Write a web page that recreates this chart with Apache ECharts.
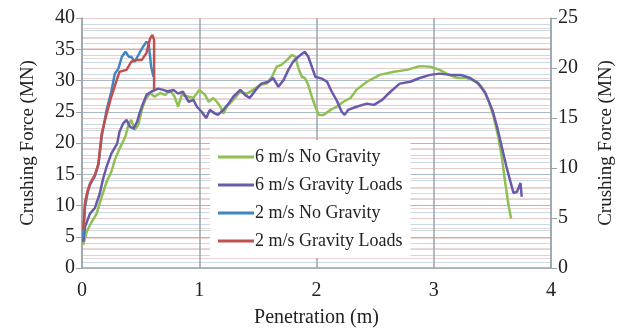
<!DOCTYPE html>
<html>
<head>
<meta charset="utf-8">
<script src="https://cdn.jsdelivr.net/npm/echarts@6/dist/echarts.min.js"></script>
<style>
  html, body { margin: 0; padding: 0; background: #fff; }
  #chart { width: 630px; height: 334px; }
</style>
</head>
<body>
<div id="chart"></div>
<script>
// series names, in legend order
var seriesNames = ['6 m/s No Gravity', '6 m/s Gravity Loads', '2 m/s No Gravity', '2 m/s Gravity Loads'];

// [penetration (m), crushing force (MN)]
var noGravity6 = [
    [0.01,3.7],[0.04,5.8],[0.083,7.4],[0.125,8.7],[0.168,11.4],[0.21,13.8],[0.25,15.4],[0.28,17.3],
    [0.32,19.1],[0.37,21.0],[0.395,22.9],[0.42,23.7],[0.45,22.1],[0.48,22.9],[0.51,25.3],[0.54,26.9],
    [0.58,28.0],[0.62,27.4],[0.665,28.0],[0.71,27.7],[0.75,28.5],[0.79,27.4],[0.82,25.8],[0.85,27.7],
    [0.91,27.4],[0.95,27.2],[1.0,28.5],[1.05,27.7],[1.08,26.6],[1.12,27.2],[1.15,26.6],[1.18,25.8],
    [1.205,24.7],[1.235,25.8],[1.29,26.9],[1.35,28.2],[1.405,27.9],[1.46,28.5],[1.52,29.3],[1.575,29.5],
    [1.62,30.6],[1.66,32.2],[1.70,32.5],[1.75,33.3],[1.79,34.1],[1.82,33.8],[1.845,32.0],[1.875,30.6],
    [1.90,30.4],[1.93,29.3],[1.96,27.4],[1.99,25.8],[2.02,24.5],[2.06,24.5],[2.12,25.3],[2.17,25.8],
    [2.23,26.6],[2.29,27.2],[2.34,28.5],[2.43,29.8],[2.54,30.9],[2.66,31.4],[2.77,31.7],[2.88,32.3],
    [2.97,32.2],[3.05,31.7],[3.11,31.1],[3.20,30.4],[3.28,30.4],[3.37,29.8],[3.42,28.7],[3.465,26.9],
    [3.51,24.2],[3.55,21.0],[3.58,17.8],[3.61,13.6],[3.64,9.8],[3.66,7.9]
];
var gravity6 = [
    [0.01,4.2],[0.026,6.6],[0.068,8.7],[0.11,9.6],[0.15,11.8],[0.18,14.3],[0.21,16.2],[0.25,18.3],
    [0.30,19.9],[0.32,21.8],[0.35,23.1],[0.38,23.7],[0.41,22.6],[0.44,22.3],[0.47,23.4],[0.49,24.7],
    [0.52,26.3],[0.55,27.7],[0.59,28.2],[0.65,28.7],[0.69,28.5],[0.74,28.2],[0.78,28.5],[0.82,27.9],
    [0.86,28.2],[0.91,26.6],[0.95,26.9],[0.98,25.8],[1.02,25.0],[1.06,24.0],[1.09,25.3],[1.135,24.7],
    [1.16,24.5],[1.205,25.3],[1.25,26.3],[1.29,27.4],[1.35,28.5],[1.39,27.7],[1.43,27.2],[1.49,28.7],
    [1.53,29.5],[1.59,29.8],[1.63,30.4],[1.675,29.0],[1.72,30.1],[1.76,31.7],[1.80,33.0],[1.845,33.8],
    [1.90,34.6],[1.93,33.8],[1.96,32.2],[1.99,30.6],[2.045,30.3],[2.09,29.8],[2.13,28.2],[2.17,26.9],
    [2.215,25.0],[2.24,24.5],[2.27,25.3],[2.34,25.8],[2.43,26.3],[2.49,26.1],[2.56,26.9],[2.63,28.2],
    [2.71,29.5],[2.80,29.8],[2.88,30.4],[2.97,30.9],[3.05,31.1],[3.14,30.9],[3.23,30.9],[3.31,30.4],
    [3.38,29.5],[3.44,28.0],[3.50,25.3],[3.54,22.6],[3.58,19.4],[3.62,16.2],[3.65,14.1],[3.68,12.0],
    [3.71,12.2],[3.74,13.6],[3.75,11.4]
];
var noGravity2 = [
    [0.01,5.0],[0.026,9.8],[0.05,12.2],[0.068,13.3],[0.11,14.7],[0.14,16.5],[0.168,21.0],[0.21,25.3],
    [0.25,28.2],[0.28,31.1],[0.31,31.9],[0.34,33.8],[0.37,34.6],[0.40,33.8],[0.42,33.8],[0.45,33.0],
    [0.49,34.4],[0.52,35.4],[0.55,36.2],[0.57,35.7],[0.59,32.2],[0.61,30.6]
];
var gravity2 = [
    [0.01,6.0],[0.026,10.6],[0.05,12.5],[0.068,13.5],[0.11,14.9],[0.14,16.7],[0.168,21.5],[0.21,24.7],
    [0.25,27.4],[0.30,30.3],[0.32,31.4],[0.38,31.7],[0.42,33.0],[0.47,33.3],[0.51,33.3],[0.55,34.4],
    [0.58,36.7],[0.60,37.3],[0.615,36.5],[0.615,28.5]
];

var colors = ['#8dc153', '#6a5aab', '#3e86c6', '#c0504d'];
var font = 'Liberation Serif';

var chart = echarts.init(document.getElementById('chart'));

function makeLine(name, data, color) {
    return {
        name: name,
        type: 'line',
        data: data,
        showSymbol: false,
        yAxisIndex: 0,
        lineStyle: { width: 2.5, color: color },
        itemStyle: { color: color },
        animation: false
    };
}

var option = {
    backgroundColor: '#fff',
    grid: { left: 82, right: 79, top: 18, bottom: 66 },
    legend: {
        data: seriesNames,
        orient: 'vertical',
        left: 210,
        top: 140,
        padding: [8, 8, 8, 8],
        itemGap: 10,
        itemWidth: 36,
        itemHeight: 3,
        icon: 'rect',
        backgroundColor: '#fff',
        textStyle: { fontFamily: font, fontSize: 18, color: '#222', padding: [0, 0, 0, -4] }
    },
    xAxis: {
        type: 'value',
        min: 0, max: 4, interval: 1,
        name: 'Penetration (m)',
        nameLocation: 'center',
        nameGap: 40,
        nameTextStyle: { fontFamily: font, fontSize: 20, color: '#222' },
        axisLine: { show: true, lineStyle: { color: '#9aa4ab', width: 1.5 } },
        axisTick: { show: false },
        axisLabel: { fontFamily: font, fontSize: 20, color: '#222', margin: 13 },
        splitLine: { show: true, lineStyle: { color: '#9aa4ab', width: 1.5 } }
    },
    yAxis: [{
        type: 'value',
        min: 0, max: 40, interval: 5,
        name: 'Crushing Force (MN)',
        nameLocation: 'center',
        nameGap: 44,
        nameTextStyle: { fontFamily: font, fontSize: 19, color: '#222' },
        axisLine: { show: true, lineStyle: { color: '#9aa4ab', width: 1.5 } },
        axisTick: { show: true, length: 6, inside: false, lineStyle: { color: '#9aa4ab' } },
        axisLabel: { fontFamily: font, fontSize: 20, color: '#222', margin: 7 },
        splitLine: { show: true, lineStyle: { color: '#a9b9c6', width: 1.2 } },
        minorTick: { show: false, splitNumber: 5 },
        minorSplitLine: { show: true, lineStyle: { color: '#c7dae6', width: 1 } }
    }, {
        type: 'value',
        min: 0, max: 25, interval: 5,
        name: 'Crushing Force (MN)',
        nameLocation: 'center',
        nameGap: 46,
        nameRotate: 90,
        nameTextStyle: { fontFamily: font, fontSize: 19, color: '#222' },
        position: 'right',
        axisLine: { show: true, lineStyle: { color: '#9aa4ab', width: 1.5 } },
        axisTick: { show: true, length: 6, lineStyle: { color: '#9aa4ab' } },
        axisLabel: { fontFamily: font, fontSize: 20, color: '#222', margin: 7 },
        splitLine: { show: true, lineStyle: { color: '#e6cccc', width: 1 } },
        minorTick: { show: false, splitNumber: 5 },
        minorSplitLine: { show: true, lineStyle: { color: '#ecd6d6', width: 1 } }
    }],
    series: [
        makeLine(seriesNames[0], noGravity6, colors[0]),
        makeLine(seriesNames[1], gravity6, colors[1]),
        makeLine(seriesNames[2], noGravity2, colors[2]),
        makeLine(seriesNames[3], gravity2, colors[3])
    ]
};

chart.setOption(option);
</script>
</body>
</html>
